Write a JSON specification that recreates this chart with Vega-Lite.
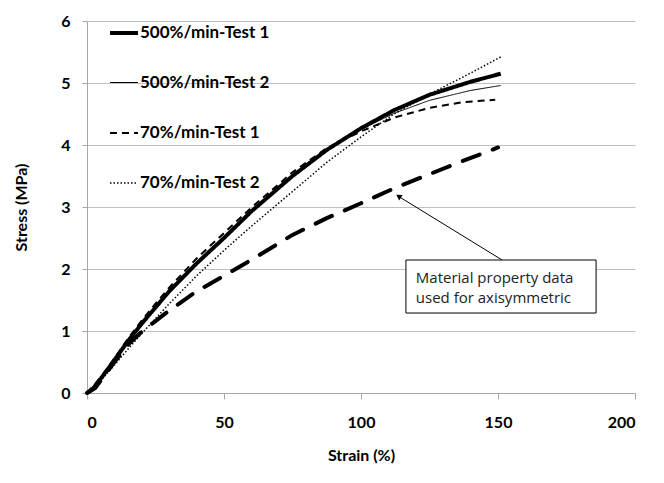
{
  "$schema": "https://vega.github.io/schema/vega-lite/v6.json",
  "width": 548,
  "height": 372,
  "autosize": {"type": "none"},
  "padding": {"left": 87, "top": 21, "right": 29, "bottom": 90},
  "background": "white",
  "config": {
    "view": {"stroke": null},
    "font": "Lato",
    "axis": {
      "labelFont": "Lato", "labelFontWeight": "bold", "labelFontSize": 16, "labelColor": "#000000",
      "titleFont": "Lato", "titleFontWeight": "bold", "titleFontSize": 16, "titleColor": "#000000",
      "domainColor": "#a6a6a6", "tickColor": "#a6a6a6", "gridColor": "#bfbfbf", "gridWidth": 1
    }
  },
  "datasets": {
    "curves": [
      {"series": "500%/min-Test 1", "strain": 0, "stress": 0},
      {"series": "500%/min-Test 1", "strain": 2, "stress": 0.06},
      {"series": "500%/min-Test 1", "strain": 5, "stress": 0.23},
      {"series": "500%/min-Test 1", "strain": 10, "stress": 0.53},
      {"series": "500%/min-Test 1", "strain": 15, "stress": 0.84},
      {"series": "500%/min-Test 1", "strain": 20, "stress": 1.12},
      {"series": "500%/min-Test 1", "strain": 25, "stress": 1.38},
      {"series": "500%/min-Test 1", "strain": 30, "stress": 1.64},
      {"series": "500%/min-Test 1", "strain": 40, "stress": 2.09},
      {"series": "500%/min-Test 1", "strain": 50, "stress": 2.5},
      {"series": "500%/min-Test 1", "strain": 60, "stress": 2.93},
      {"series": "500%/min-Test 1", "strain": 75, "stress": 3.5},
      {"series": "500%/min-Test 1", "strain": 87.5, "stress": 3.92},
      {"series": "500%/min-Test 1", "strain": 100, "stress": 4.27},
      {"series": "500%/min-Test 1", "strain": 112, "stress": 4.56},
      {"series": "500%/min-Test 1", "strain": 125, "stress": 4.81},
      {"series": "500%/min-Test 1", "strain": 140, "stress": 5.02},
      {"series": "500%/min-Test 1", "strain": 151, "stress": 5.15},
      {"series": "500%/min-Test 2", "strain": 0, "stress": 0},
      {"series": "500%/min-Test 2", "strain": 5, "stress": 0.24},
      {"series": "500%/min-Test 2", "strain": 10, "stress": 0.54},
      {"series": "500%/min-Test 2", "strain": 15, "stress": 0.85},
      {"series": "500%/min-Test 2", "strain": 20, "stress": 1.13},
      {"series": "500%/min-Test 2", "strain": 25, "stress": 1.39},
      {"series": "500%/min-Test 2", "strain": 30, "stress": 1.65},
      {"series": "500%/min-Test 2", "strain": 40, "stress": 2.1},
      {"series": "500%/min-Test 2", "strain": 50, "stress": 2.52},
      {"series": "500%/min-Test 2", "strain": 60, "stress": 2.94},
      {"series": "500%/min-Test 2", "strain": 75, "stress": 3.5},
      {"series": "500%/min-Test 2", "strain": 87.5, "stress": 3.91},
      {"series": "500%/min-Test 2", "strain": 100, "stress": 4.25},
      {"series": "500%/min-Test 2", "strain": 112, "stress": 4.51},
      {"series": "500%/min-Test 2", "strain": 125, "stress": 4.72},
      {"series": "500%/min-Test 2", "strain": 140, "stress": 4.88},
      {"series": "500%/min-Test 2", "strain": 151, "stress": 4.96},
      {"series": "70%/min-Test 1", "strain": 0, "stress": 0},
      {"series": "70%/min-Test 1", "strain": 5, "stress": 0.25},
      {"series": "70%/min-Test 1", "strain": 10, "stress": 0.56},
      {"series": "70%/min-Test 1", "strain": 15, "stress": 0.88},
      {"series": "70%/min-Test 1", "strain": 20, "stress": 1.17},
      {"series": "70%/min-Test 1", "strain": 25, "stress": 1.44},
      {"series": "70%/min-Test 1", "strain": 30, "stress": 1.7},
      {"series": "70%/min-Test 1", "strain": 40, "stress": 2.17},
      {"series": "70%/min-Test 1", "strain": 50, "stress": 2.58},
      {"series": "70%/min-Test 1", "strain": 60, "stress": 2.99},
      {"series": "70%/min-Test 1", "strain": 75, "stress": 3.56},
      {"series": "70%/min-Test 1", "strain": 87.5, "stress": 3.95},
      {"series": "70%/min-Test 1", "strain": 100, "stress": 4.22},
      {"series": "70%/min-Test 1", "strain": 112, "stress": 4.44},
      {"series": "70%/min-Test 1", "strain": 125, "stress": 4.6},
      {"series": "70%/min-Test 1", "strain": 137, "stress": 4.69},
      {"series": "70%/min-Test 1", "strain": 149, "stress": 4.73},
      {"series": "70%/min-Test 2", "strain": 0, "stress": 0},
      {"series": "70%/min-Test 2", "strain": 5, "stress": 0.2},
      {"series": "70%/min-Test 2", "strain": 10, "stress": 0.45},
      {"series": "70%/min-Test 2", "strain": 15, "stress": 0.71},
      {"series": "70%/min-Test 2", "strain": 20, "stress": 0.96},
      {"series": "70%/min-Test 2", "strain": 25, "stress": 1.2},
      {"series": "70%/min-Test 2", "strain": 30, "stress": 1.44},
      {"series": "70%/min-Test 2", "strain": 40, "stress": 1.89},
      {"series": "70%/min-Test 2", "strain": 50, "stress": 2.3},
      {"series": "70%/min-Test 2", "strain": 60, "stress": 2.69},
      {"series": "70%/min-Test 2", "strain": 75, "stress": 3.25},
      {"series": "70%/min-Test 2", "strain": 87.5, "stress": 3.72},
      {"series": "70%/min-Test 2", "strain": 100, "stress": 4.13},
      {"series": "70%/min-Test 2", "strain": 112, "stress": 4.5},
      {"series": "70%/min-Test 2", "strain": 125, "stress": 4.82},
      {"series": "70%/min-Test 2", "strain": 140, "stress": 5.16},
      {"series": "70%/min-Test 2", "strain": 151, "stress": 5.42}
    ],
    "material": [
      {"strain": 0, "stress": 0},
      {"strain": 3, "stress": 0.08},
      {"strain": 6, "stress": 0.26},
      {"strain": 10, "stress": 0.5},
      {"strain": 15, "stress": 0.78},
      {"strain": 20, "stress": 0.99},
      {"strain": 25, "stress": 1.16},
      {"strain": 30, "stress": 1.33},
      {"strain": 40, "stress": 1.64},
      {"strain": 50, "stress": 1.89},
      {"strain": 62, "stress": 2.2},
      {"strain": 75, "stress": 2.55},
      {"strain": 87.5, "stress": 2.82},
      {"strain": 100, "stress": 3.06},
      {"strain": 112, "stress": 3.3},
      {"strain": 125, "stress": 3.53},
      {"strain": 137, "stress": 3.74},
      {"strain": 150, "stress": 3.96}
    ],
    "box": [{"x1": 116.4, "x2": 185.8, "y1": 2.145, "y2": 1.29}],
    "arrow": [{"x1": 151.5, "y1": 2.145, "x2": 113.4, "y2": 3.18}],
    "head": [{"x": 114.0, "y": 3.165}],
    "note": [{"x": 120.0, "y": 1.96, "label": "Material property data\nused for axisymmetric"}]
  },
  "layer": [
    {
      "data": {"name": "material"},
      "mark": {"type": "line", "color": "#000000", "strokeWidth": 4, "strokeDash": [18, 14], "strokeCap": "round"},
      "encoding": {
        "x": {"field": "strain", "type": "quantitative", "scale": {"domain": [0, 200], "nice": false},
          "axis": {"values": [0, 50, 100, 150, 200], "grid": false, "tickSize": 6, "labelPadding": 15, "title": "Strain (%)", "titlePadding": 17}},
        "y": {"field": "stress", "type": "quantitative", "scale": {"domain": [0, 6], "nice": false},
          "axis": {"values": [0, 1, 2, 3, 4, 5, 6], "format": "d", "grid": true, "tickSize": 5, "labelPadding": 12, "title": "Stress (MPa)", "titlePadding": 31}}
      }
    },
    {
      "data": {"name": "curves"},
      "mark": {"type": "line", "color": "#000000"},
      "encoding": {
        "x": {"field": "strain", "type": "quantitative"},
        "y": {"field": "stress", "type": "quantitative"},
        "strokeDash": {"field": "series", "type": "nominal",
          "scale": {"domain": ["500%/min-Test 1", "500%/min-Test 2", "70%/min-Test 1", "70%/min-Test 2"],
            "range": [[1, 0], [1, 0], [7, 5], [1.5, 2]]},
          "legend": {"title": null, "orient": "none", "legendX": 21, "legendY": -4, "symbolType": "stroke", "symbolSize": 784,
            "symbolStrokeColor": "#000000", "labelFont": "Lato", "labelFontWeight": "bold", "labelFontSize": 17, "labelColor": "#000000",
            "rowPadding": 27, "labelOffset": 0}},
        "strokeWidth": {"field": "series", "type": "nominal",
          "scale": {"type": "ordinal", "domain": ["500%/min-Test 1", "500%/min-Test 2", "70%/min-Test 1", "70%/min-Test 2"],
            "range": [4, 1, 2, 1.5]},
          "legend": {"title": null, "orient": "none", "legendX": 21, "legendY": -4, "symbolType": "stroke", "symbolSize": 784,
            "symbolStrokeColor": "#000000", "labelFont": "Lato", "labelFontWeight": "bold", "labelFontSize": 17, "labelColor": "#000000",
            "rowPadding": 27, "labelOffset": 0}}
      }
    },
    {
      "data": {"name": "arrow"},
      "mark": {"type": "rule", "color": "#000000", "strokeWidth": 1},
      "encoding": {
        "x": {"field": "x1", "type": "quantitative"},
        "y": {"field": "y1", "type": "quantitative"},
        "x2": {"field": "x2"},
        "y2": {"field": "y2"}
      }
    },
    {
      "data": {"name": "head"},
      "mark": {"type": "point", "shape": "triangle", "filled": true, "color": "#000000", "size": 40, "angle": 302, "opacity": 1},
      "encoding": {
        "x": {"field": "x", "type": "quantitative"},
        "y": {"field": "y", "type": "quantitative"}
      }
    },
    {
      "data": {"name": "box"},
      "mark": {"type": "rect", "fill": "#ffffff", "stroke": "#000000", "strokeWidth": 1},
      "encoding": {
        "x": {"field": "x1", "type": "quantitative"},
        "x2": {"field": "x2"},
        "y": {"field": "y1", "type": "quantitative"},
        "y2": {"field": "y2"}
      }
    },
    {
      "data": {"name": "note"},
      "mark": {"type": "text", "align": "left", "baseline": "top", "font": "Open Sans", "fontSize": 15, "lineHeight": 20, "lineBreak": "\n", "color": "#222222"},
      "encoding": {
        "x": {"field": "x", "type": "quantitative"},
        "y": {"field": "y", "type": "quantitative"},
        "text": {"field": "label"}
      }
    }
  ]
}
